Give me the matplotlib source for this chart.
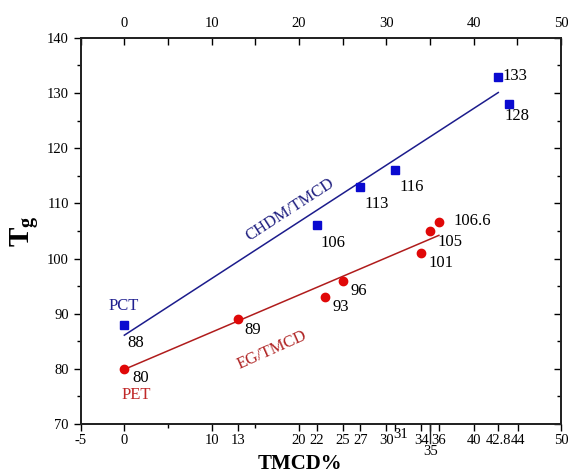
import matplotlib
matplotlib.use("Agg")
import matplotlib.pyplot as plt
import matplotlib.transforms as mtransforms
from matplotlib.ticker import MultipleLocator, FixedLocator

plt.rcParams["font.family"] = ["Liberation Serif", "DejaVu Serif"]
plt.rcParams["mathtext.fontset"] = "custom"
plt.rcParams["mathtext.rm"] = "Liberation Serif"
plt.rcParams["mathtext.bf"] = "Liberation Serif:bold"

# CHDM/TMCD copolyesters (blue squares)
chdm_x = [0, 22, 27, 31, 42.8, 44]
chdm_tg = [88, 106, 113, 116, 133, 128]
chdm_fit_x = [0, 42.8]
chdm_fit_y = [86.1, 130.1]

# EG/TMCD copolyesters (red circles)
eg_x = [0, 13, 23, 25, 34, 35, 36]
eg_tg = [80, 89, 93, 96, 101, 105, 106.6]
eg_fit_x = [0, 36]
eg_fit_y = [79.9, 104.2]

# value labels: (text, x, y)
chdm_labels = [("88", 1.35, 84.6), ("106", 23.9, 102.8), ("113", 28.9, 109.9),
               ("116", 32.9, 113.0), ("133", 44.7, 133.1), ("128", 44.9, 125.8)]
eg_labels = [("80", 1.9, 78.4), ("89", 14.7, 87.0), ("93", 24.8, 91.2),
             ("96", 26.8, 94.1), ("101", 36.2, 99.2), ("105", 37.3, 103.0),
             ("106.6", 39.8, 106.8)]

# bottom axis ticks as placed on the original figure (44 pushed right)
bottom_ticks = [-5, 0, 10, 13, 20, 22, 25, 27, 30, 31, 34, 35, 36, 40, 42.8, 45.1, 50]
bottom_labels = ["-5", "0", "10", "13", "20", "22", "25", "27", "30", "31", "34",
                 "35", "36", "40", "42.8", "44", "50"]

BLUE_PT = "#0a0ad0"
BLUE_LN = "#1c1c8c"
RED_PT = "#e00808"
RED_LN = "#b01c1c"

fig = plt.figure(figsize=(5.68, 4.74), dpi=100)
ax = fig.add_axes([0.142, 0.1055, 0.846, 0.8145])

ax.plot(chdm_fit_x, chdm_fit_y, color=BLUE_LN, lw=1.1)
ax.plot(eg_fit_x, eg_fit_y, color=RED_LN, lw=1.1)
ax.plot(chdm_x, chdm_tg, "s", color=BLUE_PT, ms=5.2, zorder=3)
ax.plot(eg_x, eg_tg, "o", color=RED_PT, ms=6, zorder=3)

for t, x, y in chdm_labels + eg_labels:
    ax.text(x, y, t, fontsize=12, ha="center", va="center", color="black")

ax.text(-0.03, 91.4, "PCT", fontsize=12, ha="center", va="center", color="#202090")
ax.text(1.35, 75.3, "PET", fontsize=12, ha="center", va="center", color="#c02828")
ax.text(19.0, 108.8, "CHDM/TMCD", fontsize=12, ha="center", va="center",
        color="#1f1f80", rotation=33)
ax.text(16.9, 83.4, "EG/TMCD", fontsize=12, ha="center", va="center",
        color="#b02525", rotation=24)

ax.set_xlim(-5, 50)
ax.set_ylim(70, 140)

# bottom axis: outward ticks at the compositions
ax.set_xticks(bottom_ticks)
ax.set_xticklabels([l if l not in ("31", "35") else "" for l in bottom_labels],
                   fontsize=10.5)
ax.xaxis.set_minor_locator(FixedLocator([5, 15]))
ax.tick_params(axis="x", which="major", direction="out", length=5, width=1, pad=2)
ax.tick_params(axis="x", which="minor", direction="out", length=3, width=1)

# the two crowded labels, placed by hand like the original
xt = mtransforms.blended_transform_factory(ax.transData, ax.transAxes)
ax.text(31.6, -0.026, "31", transform=xt, fontsize=10.5, ha="center", va="center")
ax.plot([35, 35], [0, -0.05], transform=xt, color="#222222", lw=1, clip_on=False)
ax.text(35, -0.072, "35", transform=xt, fontsize=10.5, ha="center", va="center")

# left axis outward, right axis inward
ax.yaxis.set_major_locator(MultipleLocator(10))
ax.yaxis.set_minor_locator(MultipleLocator(5))
ax.tick_params(axis="y", which="both", left=True, right=False, direction="out",
               labelsize=10.5, width=1)
ax.tick_params(axis="y", which="major", length=5)
ax.tick_params(axis="y", which="minor", length=3)

axr = ax.twinx()
axr.set_ylim(70, 140)
axr.yaxis.set_major_locator(MultipleLocator(10))
axr.yaxis.set_minor_locator(MultipleLocator(5))
axr.tick_params(axis="y", which="both", direction="in", labelright=False, width=1)
axr.tick_params(axis="y", which="major", length=5)
axr.tick_params(axis="y", which="minor", length=3)

axt = ax.twiny()
axt.set_xlim(-5, 50)
axt.set_xticks([0, 10, 20, 30, 40, 50])
axt.xaxis.set_minor_locator(MultipleLocator(5))
axt.tick_params(axis="x", which="both", direction="in", labelsize=10.5, width=1, pad=6)
axt.tick_params(axis="x", which="major", length=5)
axt.tick_params(axis="x", which="minor", length=5)

for a in (ax, axr, axt):
    for s in a.spines.values():
        s.set_linewidth(1.1)
        s.set_color("#222222")

ax.set_xlabel("TMCD%", fontsize=15, fontweight="bold", va="center")
ax.xaxis.set_label_coords(0.457, -0.103)
ax.set_ylabel(r"$\mathbf{T_g}$", fontsize=21, labelpad=4)

fig.savefig("out.png", dpi=100)
